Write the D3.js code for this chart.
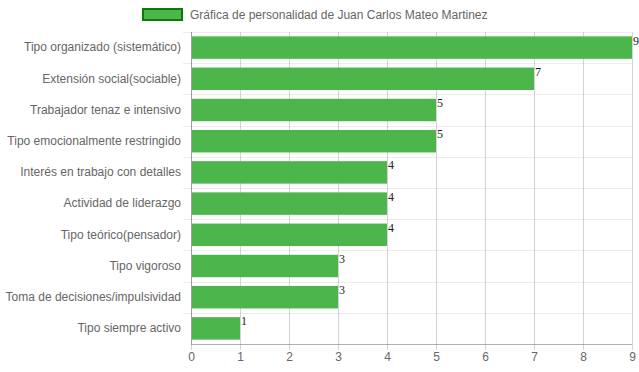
<!DOCTYPE html>
<html>
<head>
<meta charset="utf-8">
<script src="https://cdn.jsdelivr.net/npm/d3@7/dist/d3.min.js"></script>
<style>
  body { margin: 0; background: #fff; }
  svg text { font-family: "Liberation Sans", Arial, sans-serif; }
  svg text.count { font-family: "Liberation Serif", "Times New Roman", serif; }
</style>
</head>
<body>
<div class="chart"></div>
<script>
// data
var categories = [
  "Tipo organizado (sistemático)",
  "Extensión social(sociable)",
  "Trabajador tenaz e intensivo",
  "Tipo emocionalmente restringido",
  "Interés en trabajo con detalles",
  "Actividad de liderazgo",
  "Tipo teórico(pensador)",
  "Tipo vigoroso",
  "Toma de decisiones/impulsividad",
  "Tipo siempre activo"
];
var values = [9, 7, 5, 5, 4, 4, 4, 3, 3, 1];
var xTicks = [0, 1, 2, 3, 4, 5, 6, 7, 8, 9];
var seriesName = "Gráfica de personalidad de Juan Carlos Mateo Martinez";

var W = 639, H = 372;
var margin = { top: 32, right: 7, bottom: 28, left: 191 },
    width = W - margin.left - margin.right,
    height = H - margin.top - margin.bottom;

var svg = d3.select(".chart").append("svg")
    .attr("width", W)
    .attr("height", H);

var g = svg.append("g")
    .attr("transform", "translate(" + margin.left + "," + margin.top + ")");

var x = d3.scaleLinear().domain([0, 9]).range([0, width]);
var y = d3.scaleBand().domain(categories).range([0, height]).paddingInner(0.28).paddingOuter(0.14);
var yb = d3.scaleBand().domain(categories).range([0, height]);

// vertical grid
g.append("g")
    .selectAll("line")
    .data(xTicks)
    .enter().append("line")
    .attr("x1", function (d) { return Math.round(x(d)) + 0.5; })
    .attr("x2", function (d) { return Math.round(x(d)) + 0.5; })
    .attr("y1", 0)
    .attr("y2", height + 6)
    .attr("stroke", "rgba(0,0,0,0.17)")
    .attr("stroke-width", 1);

// horizontal grid at category boundaries
g.append("g")
    .selectAll("line")
    .data(categories)
    .enter().append("line")
    .attr("x1", -8)
    .attr("x2", width)
    .attr("y1", function (d) { return Math.round(yb(d)) + 0.5; })
    .attr("y2", function (d) { return Math.round(yb(d)) + 0.5; })
    .attr("stroke", "rgba(0,0,0,0.07)");

// x axis
var xAxis = d3.axisBottom(x).tickValues(xTicks).tickSize(0).tickPadding(8).tickFormat(d3.format("d"));
var xa = g.append("g")
    .attr("transform", "translate(0," + height + ")")
    .call(xAxis);
xa.select(".domain").remove();
xa.selectAll("text").attr("fill", "#666").attr("font-size", 12);

g.append("line")
    .attr("x1", 0).attr("x2", width)
    .attr("y1", height + 0.5).attr("y2", height + 0.5)
    .attr("stroke", "rgba(0,0,0,0.3)");
g.append("line")
    .attr("x1", 0.5).attr("x2", 0.5)
    .attr("y1", 0).attr("y2", height)
    .attr("stroke", "rgba(0,0,0,0.25)");

// y axis labels
var yAxis = d3.axisLeft(yb).tickSize(0).tickPadding(10);
var ya = g.append("g").call(yAxis);
ya.select(".domain").remove();
ya.selectAll("text").attr("fill", "#666").attr("font-size", 12);

// bars
g.selectAll(".bar")
    .data(values)
    .enter().append("rect")
    .attr("class", "bar")
    .attr("x", x(0) + 1)
    .attr("y", function (d, i) { return y(categories[i]); })
    .attr("width", function (d) { return x(d) - x(0) - 1; })
    .attr("height", y.bandwidth())
    .attr("fill", "#4cb54c");

// value labels
g.selectAll(".count")
    .data(values)
    .enter().append("text")
    .attr("class", "count")
    .attr("x", function (d) { return x(d) + 1; })
    .attr("y", function (d, i) { return y(categories[i]) + y.bandwidth() / 2 - 3; })
    .attr("font-size", 12)
    .attr("fill", "#222")
    .text(function (d) { return d; });

// legend
var lg = svg.append("g").attr("transform", "translate(142,8)");
lg.append("rect")
    .attr("x", 1).attr("y", 1)
    .attr("width", 39).attr("height", 11)
    .attr("fill", "#4cb54c")
    .attr("stroke", "#0b7a0b")
    .attr("stroke-width", 2);
lg.append("text")
    .attr("x", 48).attr("y", 11)
    .attr("fill", "#666")
    .attr("font-size", 12)
    .text(seriesName);
</script>
</body>
</html>
